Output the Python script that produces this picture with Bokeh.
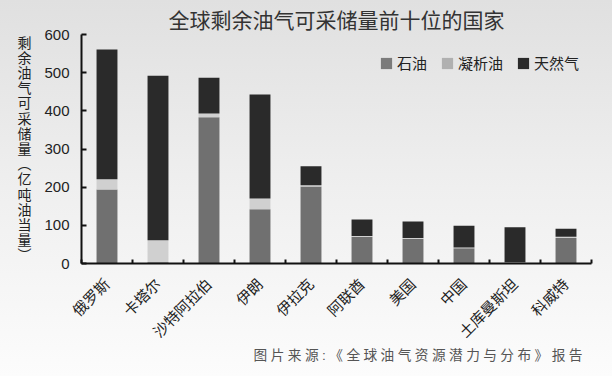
import math
from bokeh.plotting import figure
from bokeh.models import Range1d, FixedTicker, Legend, LegendItem, Title, ColumnDataSource
from bokeh.embed import file_html
from bokeh.resources import INLINE

countries = ["俄罗斯", "卡塔尔", "沙特阿拉伯", "伊朗", "伊拉克", "阿联酋", "美国", "中国", "土库曼斯坦", "科威特"]
oil = [194, 3, 383, 142, 202, 70, 65, 40, 2, 67]
condensate = [27, 58, 10, 28, 3, 2, 2, 2, 1, 3]
gas = [340, 431, 94, 273, 50, 43, 43, 57, 92, 21]
series_names = ["石油", "凝析油", "天然气"]
y_ticks = [0, 100, 200, 300, 400, 500, 600]

title_text = "全球剩余油气可采储量前十位的国家"
y_label = "剩余油气可采储量︵亿吨油当量︶"
source_text = "图片来源:《全球油气资源潜力与分布》报告"

bar_colors = ["#707070", "#d0d0d0", "#2a2a2a"]
legend_colors = ["#7b7b7b", "#b0b0b0", "#2a2a2a"]

CJK = "Liberation Sans, Noto Sans CJK SC, sans-serif"

xs = [i + 0.5 for i in range(len(countries))]
src = ColumnDataSource(dict(x=xs, oil=oil, cond=condensate, gas=gas))

p = figure(width=612, height=376, output_backend="svg", toolbar_location=None,
           x_range=Range1d(0, 10), y_range=Range1d(0, 600),
           min_border_left=81, min_border_right=21, min_border_top=34, min_border_bottom=113)

p.vbar_stack(["oil", "cond", "gas"], x="x", width=0.41, source=src,
             color=bar_colors, line_color=None)

# legend proxies (zero-height bars outside the visible range)
items = []
for name, c in zip(series_names, legend_colors):
    dummy = ColumnDataSource(dict(x=[-5], top=[0]))
    r = p.vbar(x="x", top="top", width=0.4, source=dummy, fill_color=c, line_color=None)
    items.append(LegendItem(label=name, renderers=[r]))
legend = Legend(items=items, orientation="horizontal", location=(298, 190),
                glyph_width=14, glyph_height=14, label_standoff=4, spacing=13,
                padding=0, margin=0, background_fill_alpha=0, border_line_color=None,
                label_text_font=CJK, label_text_font_size="15px", label_text_color="#222222",
                label_height=14)
p.add_layout(legend)

p.grid.visible = False
p.outline_line_color = None
p.background_fill_alpha = 0
p.border_fill_alpha = 0
p.styles = {"background-image": "linear-gradient(#e0e0e0, #efefef 50%, #fcfcfc)"}

# y axis
ya = p.yaxis[0]
ya.ticker = FixedTicker(ticks=y_ticks)
ya.axis_line_width = 2
ya.axis_line_color = "#111111"
ya.major_tick_in = 5
ya.major_tick_out = 0
ya.major_tick_line_width = 2
ya.major_tick_line_color = "#111111"
ya.minor_tick_line_color = None
ya.major_label_text_font = CJK
ya.major_label_text_font_size = "15px"
ya.major_label_text_color = "#222222"
ya.major_label_standoff = 12
ya.axis_label = "\n".join(y_label)
ya.axis_label_orientation = "horizontal"
ya.axis_label_text_font = CJK
ya.axis_label_text_font_size = "14px"
ya.axis_label_text_font_style = "normal"
ya.axis_label_text_color = "#222222"
ya.axis_label_text_line_height = 0.95
ya.axis_label_standoff = 10

# x axis
xa = p.xaxis[0]
xa.ticker = FixedTicker(ticks=xs, minor_ticks=list(range(0, 11)))
xa.major_label_overrides = {x: c for x, c in zip(xs, countries)}
xa.major_label_orientation = math.pi / 4
xa.axis_line_width = 2
xa.axis_line_color = "#111111"
xa.major_tick_line_color = None
xa.minor_tick_in = 4
xa.minor_tick_out = 0
xa.minor_tick_line_width = 2
xa.minor_tick_line_color = "#111111"
xa.major_label_text_font = CJK
xa.major_label_text_font_size = "15px"
xa.major_label_text_color = "#222222"
xa.major_label_standoff = 12

# title
p.add_layout(Title(text=title_text, align="center", offset=3, standoff=6,
                   text_font=CJK, text_font_size="21px", text_font_style="normal",
                   text_color="#333333"), "above")

# source line (letter-spaced)
p.add_layout(Title(text="\u2005".join(source_text), align="right", offset=9, standoff=-7,
                   text_font=CJK, text_font_size="13.7px", text_font_style="normal",
                   text_color="#555555"), "below")

open("out.html", "w").write(file_html(p, INLINE))
